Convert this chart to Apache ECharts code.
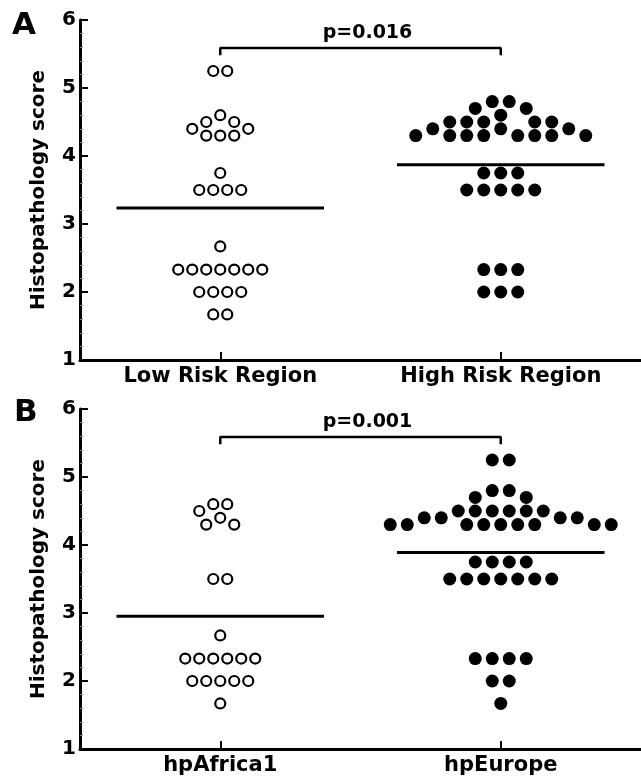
<!DOCTYPE html>
<html>
<head>
<meta charset="utf-8">
<script src="https://cdn.jsdelivr.net/npm/echarts@6/dist/echarts.min.js"></script>
<style>
  html, body { margin: 0; padding: 0; background: #fff; }
  #main { width: 641px; height: 783px; }
</style>
</head>
<body>
<div id="main"></div>
<script>
// panel A
var catsA = ['Low Risk Region', 'High Risk Region'];
var lowRisk = [5.25, 5.25, 4.6, 4.5, 4.5, 4.4, 4.4, 4.3, 4.3, 4.3, 3.75, 3.5, 3.5, 3.5, 3.5, 2.67,
  2.33, 2.33, 2.33, 2.33, 2.33, 2.33, 2.33, 2.0, 2.0, 2.0, 2.0, 1.67, 1.67];
var highRisk = [4.8, 4.8, 4.7, 4.7, 4.6, 4.5, 4.5, 4.5, 4.5, 4.5, 4.4, 4.4, 4.4,
  4.3, 4.3, 4.3, 4.3, 4.3, 4.3, 4.3, 4.3, 3.75, 3.75, 3.75, 3.5, 3.5, 3.5, 3.5, 3.5,
  2.33, 2.33, 2.33, 2.0, 2.0, 2.0];
var pA = 'p=0.016';

// panel B
var catsB = ['hpAfrica1', 'hpEurope'];
var africa = [4.6, 4.6, 4.5, 4.4, 4.3, 4.3, 3.5, 3.5, 2.67, 2.33, 2.33, 2.33, 2.33, 2.33, 2.33,
  2.0, 2.0, 2.0, 2.0, 2.0, 1.67];
var europe = [5.25, 5.25, 4.8, 4.8, 4.7, 4.7, 4.5, 4.5, 4.5, 4.5, 4.5, 4.5, 4.4, 4.4, 4.4, 4.4,
  4.3, 4.3, 4.3, 4.3, 4.3, 4.3, 4.3, 4.3, 4.3, 3.75, 3.75, 3.75, 3.75,
  3.5, 3.5, 3.5, 3.5, 3.5, 3.5, 3.5, 2.33, 2.33, 2.33, 2.33, 2.0, 2.0, 1.67];
var pB = 'p=0.001';

var yTicks = [1, 2, 3, 4, 5, 6];

var FONT = 'DejaVu Sans';
var GRID_LEFT = 80, GRID_W = 570, GRID_H = 340;
var PX_Y = GRID_H / (yTicks[yTicks.length - 1] - yTicks[0]);
var BRACKET_Y = 5.59, BRACKET_DROP = 0.11;
var MEAN_HALF = 0.37;

// spread equal / close values sideways (column scatter layout), returns px offsets
function swarm(vals, step, minDist) {
  var h = step / 2;
  var rows = {};
  vals.forEach(function (v) { rows[v] = (rows[v] || 0) + 1; });
  var keys = Object.keys(rows).map(Number).sort(function (a, b) { return b - a; });
  var placed = [];
  var slots = {};
  var side = -1;
  keys.forEach(function (v) {
    var n = rows[v], y = v * PX_Y, xs = [];
    function free(x) {
      return placed.every(function (p) {
        return p.y === y || Math.hypot(p.x - x, p.y - y) >= minDist;
      }) && xs.every(function (q) { return Math.abs(q - x) >= step - 0.01; });
    }
    if (n % 2 === 1) {
      if (free(0)) xs.push(0);
      else {
        // lone point goes to the nearest free slot, alternating sides
        var s = 1;
        while (!free(side * s * h)) s++;
        xs.push(side * s * h);
        side = -side;
      }
    }
    var k = 1;
    while (xs.length < n) {
      if (free(k * h) && free(-k * h)) { xs.push(-k * h, k * h); }
      k += 1;
    }
    xs.sort(function (a, b) { return a - b; });
    xs.forEach(function (x) { placed.push({ x: x, y: y }); });
    slots[v] = xs;
  });
  var used = {};
  return vals.map(function (v) {
    used[v] = (used[v] || 0);
    return slots[v][used[v]++];
  });
}

function mean(arr) {
  return arr.reduce(function (s, v) { return s + v; }, 0) / arr.length;
}

function pointSeries(vals, idx, xAxisIndex, yAxisIndex, open) {
  var offs = open ? swarm(vals, 14, 10.5) : swarm(vals, 17, 11);
  return {
    type: 'scatter',
    xAxisIndex: xAxisIndex,
    yAxisIndex: yAxisIndex,
    symbol: 'circle',
    symbolSize: open ? 10 : 13,
    itemStyle: open
      ? { color: '#fff', borderColor: '#000', borderWidth: 2.2, opacity: 1 }
      : { color: '#000', opacity: 1 },
    silent: true,
    z: 3,
    data: vals.map(function (v, i) {
      return { value: [idx, v], symbolOffset: [offs[i], 0] };
    })
  };
}

function meanSeries(vals, idx, xAxisIndex, yAxisIndex) {
  var m = mean(vals);
  return {
    type: 'line',
    xAxisIndex: xAxisIndex,
    yAxisIndex: yAxisIndex,
    symbol: 'none',
    silent: true,
    lineStyle: { color: '#000', width: 3 },
    z: 4,
    data: [[idx - MEAN_HALF, m], [idx + MEAN_HALF, m]]
  };
}

function bracketSeries(p, xAxisIndex, yAxisIndex) {
  return [{
    type: 'line',
    xAxisIndex: xAxisIndex,
    yAxisIndex: yAxisIndex,
    symbol: 'none',
    silent: true,
    lineStyle: { color: '#000', width: 2.5 },
    data: [[0, BRACKET_Y - BRACKET_DROP], [0, BRACKET_Y], [1, BRACKET_Y], [1, BRACKET_Y - BRACKET_DROP]]
  }, {
    type: 'scatter',
    xAxisIndex: xAxisIndex,
    yAxisIndex: yAxisIndex,
    symbolSize: 0,
    silent: true,
    itemStyle: { opacity: 1 },
    data: [[0.5, BRACKET_Y]],
    label: {
      show: true,
      position: 'top',
      distance: 5,
      offset: [7, 0],
      formatter: p,
      color: '#000',
      fontFamily: FONT,
      fontWeight: 'bold',
      fontSize: 19
    }
  }];
}

function catAxis(gridIndex, cats) {
  return {
    gridIndex: gridIndex,
    type: 'category',
    data: cats,
    boundaryGap: true,
    axisLine: { show: true, onZero: false, lineStyle: { color: '#000', width: 3 } },
    axisTick: { show: true, inside: true, alignWithLabel: true, length: 8, lineStyle: { color: '#000', width: 2 } },
    axisLabel: { color: '#000', fontFamily: FONT, fontWeight: 'bold', fontSize: 21, margin: 6 },
    splitLine: { show: false }
  };
}

function valXAxis(gridIndex) {
  return { gridIndex: gridIndex, type: 'value', min: -0.5, max: 1.5, show: false };
}

function yAx(gridIndex) {
  return {
    gridIndex: gridIndex,
    type: 'value',
    min: yTicks[0],
    max: yTicks[yTicks.length - 1],
    interval: 1,
    name: 'Histopathology score',
    nameLocation: 'middle',
    nameRotate: 90,
    nameGap: 31,
    nameTextStyle: { color: '#000', fontFamily: FONT, fontWeight: 'bold', fontSize: 20 },
    axisLine: { show: true, onZero: false, lineStyle: { color: '#000', width: 3 } },
    axisTick: { show: true, inside: true, length: 8, lineStyle: { color: '#000', width: 2 } },
    minorTick: { show: true, splitNumber: 5, length: 3, lineStyle: { color: '#888', width: 1 } },
    axisLabel: { color: '#000', fontFamily: FONT, fontWeight: 'bold', fontSize: 20, margin: 4 },
    splitLine: { show: false }
  };
}

var chart = echarts.init(document.getElementById('main'), null, { renderer: 'canvas' });

var option = {
  backgroundColor: '#fff',
  animation: false,
  title: [
    { text: 'A', left: 12, top: 10, padding: 0, textStyle: { color: '#000', fontFamily: FONT, fontWeight: 'bold', fontSize: 31 } },
    { text: 'B', left: 14, top: 397, padding: 0, textStyle: { color: '#000', fontFamily: FONT, fontWeight: 'bold', fontSize: 31 } }
  ],
  grid: [
    { left: GRID_LEFT, top: 20, width: GRID_W, height: GRID_H },
    { left: GRID_LEFT, top: 409, width: GRID_W, height: GRID_H }
  ],
  xAxis: [catAxis(0, catsA), valXAxis(0), catAxis(1, catsB), valXAxis(1)],
  yAxis: [yAx(0), yAx(1)],
  series: [
    pointSeries(lowRisk, 0, 1, 0, true),
    pointSeries(highRisk, 1, 1, 0, false),
    meanSeries(lowRisk, 0, 1, 0),
    meanSeries(highRisk, 1, 1, 0),
    pointSeries(africa, 0, 3, 1, true),
    pointSeries(europe, 1, 3, 1, false),
    meanSeries(africa, 0, 3, 1),
    meanSeries(europe, 1, 3, 1)
  ].concat(bracketSeries(pA, 1, 0), bracketSeries(pB, 3, 1))
};

chart.setOption(option);
</script>
</body>
</html>
